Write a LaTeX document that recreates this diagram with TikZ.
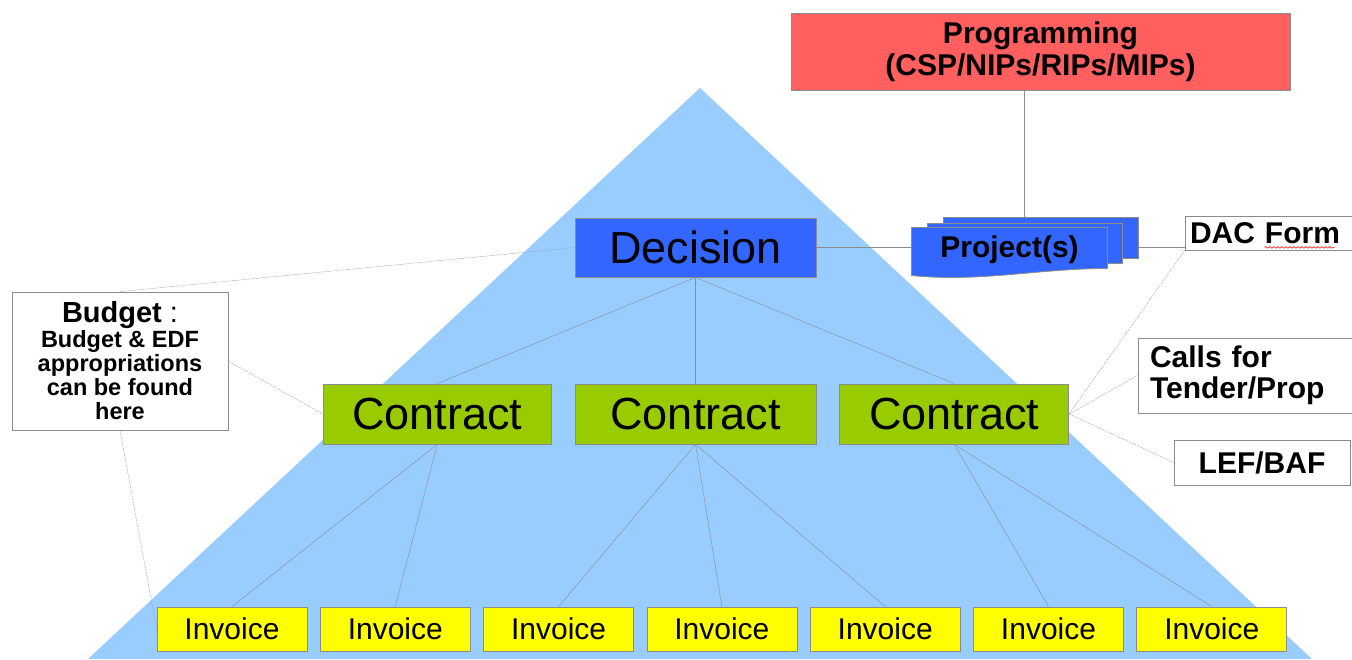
\documentclass[tikz,border=0pt]{standalone}
\usepackage{fontspec}
\setmainfont{Liberation Sans}
\usetikzlibrary{positioning,calc,decorations.pathmorphing}
\definecolor{pyramidBlue}{HTML}{99CCFF}
\definecolor{decisionBlue}{HTML}{3366FF}
\definecolor{contractGreen}{HTML}{99CC00}
\definecolor{invoiceYellow}{HTML}{FFFF00}
\definecolor{progRed}{HTML}{FF5F5F}
\definecolor{lineGray}{HTML}{8C8C8C}
\definecolor{hintGray}{HTML}{A0A0A0}
\pgfdeclarelayer{back}
\pgfsetlayers{back,main}

\begin{document}
\begin{tikzpicture}[x=1pt, y=-1pt, line width=1pt,
  box/.style={draw=lineGray, line width=0.8pt, inner sep=0pt, align=center},
  contractbox/.style={box, fill=contractGreen, minimum height=60pt, font=\fontsize{45}{50}\selectfont},
  invoicebox/.style={box, fill=invoiceYellow, minimum width=150pt, minimum height=44pt, font=\fontsize{30}{32}\selectfont},
  notebox/.style={box, fill=white, font=\fontsize{30}{31}\selectfont\bfseries},
  link/.style={draw=lineGray},
  hint/.style={draw=hintGray, dash pattern=on 2pt off 1pt}]
\useasboundingbox (0,0) rectangle (1352,659);

% top of the chain
\node[box, fill=progRed, minimum width=499pt, minimum height=77pt, font=\fontsize{30}{32}\selectfont\bfseries] (prog) at (1040.5,51.5)
  {Programming\\(CSP/NIPs/RIPs/MIPs)};
\node[box, fill=decisionBlue, minimum width=241pt, minimum height=59pt, font=\fontsize{45}{50}\selectfont] (dec) at (695.5,247.5) {Decision};

% project stack
\node[box, fill=decisionBlue, minimum width=195pt, minimum height=41pt] (proj3) at (1040.5,237.5) {};
\node[box, fill=decisionBlue, minimum width=195pt, minimum height=40pt] (proj2) at (1024.5,243) {};
\node[inner sep=0pt, minimum width=195pt, minimum height=44pt] (proj) at (1009.5,250) {};
\fill[decisionBlue, draw=lineGray, line width=0.8pt] (proj.north west) -- (proj.north east) -- ($(proj.south east)+(0,-4)$)
  .. controls ($(proj.south east)+(-70,-4)$) and ($(proj.south west)+(70,10)$) .. ($(proj.south west)+(0,3)$) -- cycle;
\node[font=\fontsize{30}{31}\selectfont\bfseries] (projtext) at (proj) {Project(s)};

% contracts and invoices
\node[contractbox, minimum width=241pt] (c2) at (695.5,414) {Contract};
\node[contractbox, minimum width=228pt, left=23pt of c2] (c1) {Contract};
\node[contractbox, minimum width=229pt, right=23pt of c2] (c3) {Contract};

\node[invoicebox] (inv1) at (232,629) {Invoice};
\node[invoicebox, right=12.5pt of inv1] (inv2) {Invoice};
\node[invoicebox, right=12.5pt of inv2] (inv3) {Invoice};
\node[invoicebox, right=12.5pt of inv3] (inv4) {Invoice};
\node[invoicebox, right=12.5pt of inv4] (inv5) {Invoice};
\node[invoicebox, right=12.5pt of inv5] (inv6) {Invoice};
\node[invoicebox, right=12.5pt of inv6] (inv7) {Invoice};

% side notes
\node[box, fill=white, font=\fontsize{23.5}{24}\selectfont\bfseries, minimum width=216pt, minimum height=138pt] (budget) at (120,361)
  {{\fontsize{29}{30}\selectfont Budget\mdseries{} :}\\[1pt]Budget \& EDF\\appropriations\\can be found\\here};
\node[notebox, text width=165pt, inner xsep=5pt, minimum height=34pt, align=left] (dac) at (1272.5,233) {DAC Form};
\draw[red, line width=0.6pt, decorate, decoration={snake, amplitude=0.8pt, segment length=4pt}]
  ($(dac.south west)+(80,-3)$) -- ($(dac.south west)+(150,-3)$);
\node[notebox, text width=190pt, inner xsep=12pt, minimum height=75pt, align=left] (calls) at (1245,375.5) {Calls for\\Tender/Prop};
\node[notebox, minimum width=176pt, minimum height=45pt] (lef) at (1262,462.5) {LEF/BAF};

\begin{pgfonlayer}{back}
\fill[white] (0,0) rectangle (1352,659);
\fill[pyramidBlue] (700,88) -- (88,659) -- (1312,659) -- cycle;
\draw[link] (prog.south -| proj2.north) -- (proj2.north);
\draw[link] (dec.east) -- (dac.west |- dec.east);
\draw[link] (dec.south) -- (c1.north);
\draw[link] (dec.south) -- (c2.north);
\draw[link] (dec.south) -- (c3.north);
\draw[link] (c1.south) -- (inv1.north);
\draw[link] (c1.south) -- (inv2.north);
\draw[link] (c2.south) -- (inv3.north);
\draw[link] (c2.south) -- (inv4.north);
\draw[link] (c2.south) -- (inv5.north);
\draw[link] (c3.south) -- (inv6.north);
\draw[link] (c3.south) -- (inv7.north);
\draw[hint] (dec.west) -- (budget.north);
\draw[hint] (budget.east) -- (c1.west);
\draw[hint] (budget.south) -- (inv1.west);
\draw[hint] (c3.east) -- (dac.south west);
\draw[hint] (c3.east) -- (calls.west);
\draw[hint] (c3.east) -- (lef.west);
\end{pgfonlayer}
\end{tikzpicture}
\end{document}
